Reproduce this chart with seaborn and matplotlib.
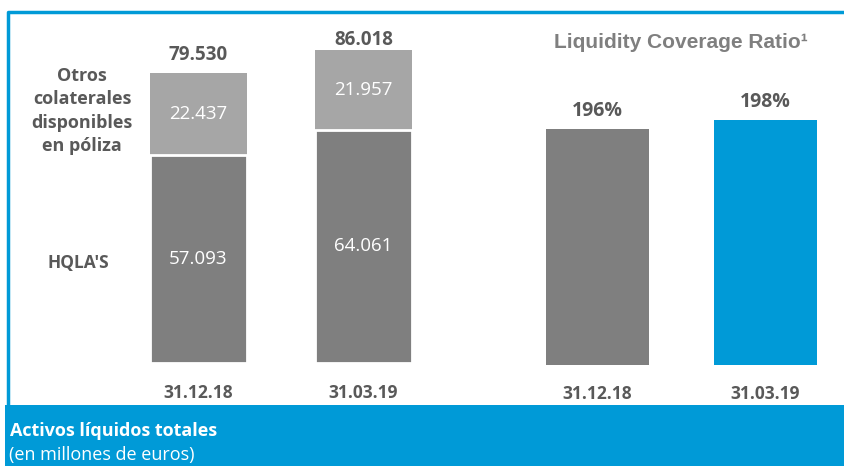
import matplotlib
matplotlib.use("Agg")
import matplotlib.pyplot as plt
import matplotlib.patches as mpatches
import seaborn as sns
import pandas as pd

# data
fechas = ["31.12.18", "31.03.19"]
hqla = [57.093, 64.061]
otros = [22.437, 21.957]
totales = [79.530, 86.018]
hqla_txt = ["57.093", "64.061"]
otros_txt = ["22.437", "21.957"]
total_txt = ["79.530", "86.018"]
lcr = [196, 198]
lcr_txt = ["196%", "198%"]

DARK = "#7f7f7f"
LIGHT = "#a6a6a6"
BLUE = "#009ad7"
TXT = "#595959"

sns.set_theme(style="white")
plt.rcParams["font.family"] = ["Open Sans", "DejaVu Sans"]

W, H = 844, 466
fig = plt.figure(figsize=(W / 100, H / 100), dpi=100)

def px_axes(x0, y0, x1, y1):
    # pixel box (top-left origin) -> axes
    return fig.add_axes([x0 / W, 1 - y1 / H, (x1 - x0) / W, (y1 - y0) / H])

# frame and bottom band
bg = fig.add_axes([0, 0, 1, 1])
bg.set_xlim(0, W)
bg.set_ylim(H, 0)
bg.axis("off")
bg.plot([7.5, 7.5, W + 2], [405, 12, 12], color=BLUE, lw=2.5, solid_capstyle="butt")
bg.add_patch(mpatches.Rectangle((5, 405), W, 70, color=BLUE, lw=0))
bg.text(10, 431, "Activos líquidos totales", color="white", fontsize=13,
        fontweight="bold", va="center", ha="left")
bg.text(9, 455, "(en millones de euros)", color="white", fontsize=13,
        va="center", ha="left")

# left: stacked bars
df = pd.DataFrame({"fecha": fechas, "hqla": hqla, "total": totales})
scale = 3.643  # px per unit
ax1 = px_axes(116, 30, 446, 363)
sns.barplot(data=df, x="fecha", y="total", color=LIGHT, saturation=1,
            width=97 / 165, ax=ax1, edgecolor="none")
sns.barplot(data=df, x="fecha", y="hqla", color=DARK, saturation=1,
            width=97 / 165, ax=ax1, edgecolor="white", linewidth=2)
ax1.set_xlim(-(198.5 - 116) / 165, (446 - 198.5) / 165)
ax1.set_ylim(0, 333 / scale)
tot_off = [13.5, 7]  # label lift in points
for i in range(2):
    ax1.text(i, hqla[i] / 2, hqla_txt[i], ha="center", va="center",
             color="white", fontsize=13.5)
    ax1.text(i, hqla[i] + otros[i] / 2, otros_txt[i], ha="center", va="center",
             color="white", fontsize=13.5)
    ax1.annotate(total_txt[i], (i, totales[i]), xytext=(0, tot_off[i]),
                 textcoords="offset points", ha="center", va="center",
                 color=TXT, fontsize=13.5, fontweight="bold")

# right: LCR
df2 = pd.DataFrame({"fecha": fechas, "lcr": lcr})
ax2 = px_axes(480, 30, 844, 365)
sns.barplot(data=df2, x="fecha", y="lcr", hue="fecha", palette=[DARK, BLUE],
            saturation=1, width=103 / 168, ax=ax2, legend=False, edgecolor="none")
ax2.set_xlim(-(597.5 - 480) / 168, (844 - 597.5) / 168)
ybase = 196 - (365 - 129) / 4.5
ax2.set_ylim(ybase, ybase + 335 / 4.5)
for i in range(2):
    ax2.annotate(lcr_txt[i], (i, lcr[i]), xytext=(0, 13),
                 textcoords="offset points", ha="center", va="center",
                 color=TXT, fontsize=14, fontweight="bold")

for ax in (ax1, ax2):
    ax.set_facecolor("none")
    sns.despine(ax=ax, left=True, bottom=True)
    ax.set_yticks([])
    ax.set_xlabel("")
    ax.set_ylabel("")
    ax.tick_params(axis="x", length=0, pad=15, labelsize=12.5, labelcolor=TXT)
    for lbl in ax.get_xticklabels():
        lbl.set_fontweight("bold")
ax2.tick_params(axis="x", pad=14.5)

# text labels
bg.text(82, 111, "Otros\ncolaterales\ndisponibles\nen póliza", ha="center",
        va="center", color=TXT, fontsize=13, fontweight="bold", linespacing=1.4)
bg.text(78, 263, "HQLA'S", ha="center", va="center", color=TXT,
        fontsize=12.5, fontweight="bold")
bg.text(681, 43, "Liquidity Coverage Ratio¹", ha="center", va="center",
        color="#7f7f7f", fontsize=15, fontweight="bold",
        family=["Liberation Sans", "DejaVu Sans"])

fig.savefig("out.png", dpi=100)
